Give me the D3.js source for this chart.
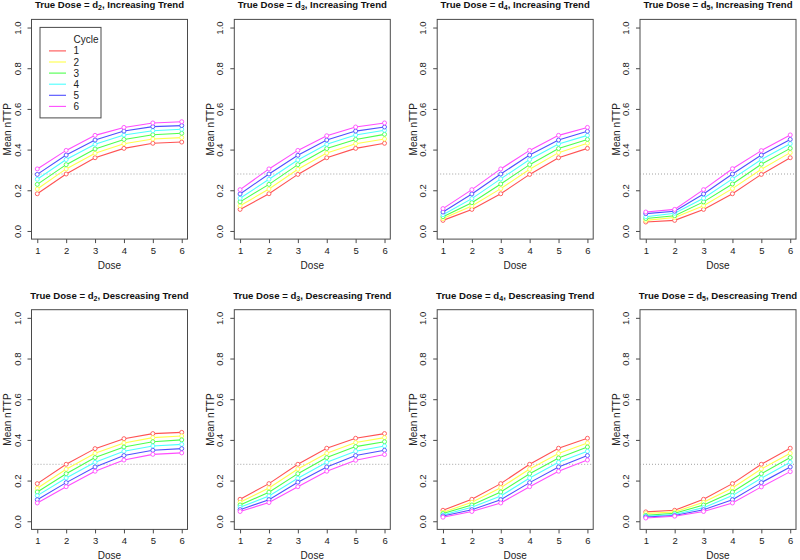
<!DOCTYPE html>
<html><head><meta charset="utf-8">
<script src="https://cdn.jsdelivr.net/npm/d3@7"></script>
<style>
body{margin:0;background:#fff;}
svg{display:block;font-family:"Liberation Sans",Arial,Helvetica,sans-serif;}
</style></head>
<body><svg id="chart" width="800" height="560"></svg>
<script>
// ---- data ----
const doses = [1, 2, 3, 4, 5, 6];
const cycles = ["1", "2", "3", "4", "5", "6"];
const yTicks = [0, 0.2, 0.4, 0.6, 0.8, 1.0];
const target = 0.28;
const trueDoses = ["2", "3", "4", "5", "2", "3", "4", "5"];
const trends = ["Increasing", "Increasing", "Increasing", "Increasing",
                "Descreasing", "Descreasing", "Descreasing", "Descreasing"];
const colors = ["#ff5252", "#ffff4a", "#4cff4c", "#4cffff", "#4f4fff", "#ff4cff"];

// each array: rows = cycles 1..6, columns = doses 1..6
const incD2 = [
  [0.183, 0.280, 0.360, 0.406, 0.431, 0.437],
  [0.206, 0.305, 0.382, 0.429, 0.452, 0.459],
  [0.229, 0.326, 0.403, 0.450, 0.473, 0.480],
  [0.254, 0.351, 0.426, 0.472, 0.493, 0.500],
  [0.278, 0.373, 0.447, 0.491, 0.513, 0.518],
  [0.305, 0.396, 0.470, 0.509, 0.531, 0.537]];
const incD3 = [
  [0.106, 0.183, 0.278, 0.360, 0.406, 0.431],
  [0.124, 0.206, 0.303, 0.383, 0.429, 0.452],
  [0.143, 0.229, 0.326, 0.405, 0.450, 0.475],
  [0.161, 0.254, 0.349, 0.426, 0.472, 0.495],
  [0.182, 0.280, 0.372, 0.447, 0.491, 0.511],
  [0.203, 0.305, 0.396, 0.468, 0.511, 0.531]];
const incD4 = [
  [0.052, 0.106, 0.183, 0.278, 0.360, 0.406],
  [0.061, 0.123, 0.208, 0.303, 0.385, 0.431],
  [0.070, 0.139, 0.231, 0.326, 0.405, 0.450],
  [0.080, 0.159, 0.256, 0.351, 0.428, 0.470],
  [0.093, 0.182, 0.280, 0.373, 0.447, 0.490],
  [0.110, 0.203, 0.305, 0.396, 0.470, 0.509]];
const incD5 = [
  [0.044, 0.052, 0.106, 0.183, 0.278, 0.360],
  [0.052, 0.066, 0.124, 0.208, 0.303, 0.385],
  [0.061, 0.075, 0.143, 0.231, 0.328, 0.406],
  [0.070, 0.087, 0.161, 0.256, 0.351, 0.429],
  [0.085, 0.097, 0.182, 0.280, 0.373, 0.450],
  [0.093, 0.106, 0.203, 0.306, 0.395, 0.472]];
const decD2 = [
  [0.185, 0.280, 0.357, 0.406, 0.431, 0.437],
  [0.162, 0.256, 0.334, 0.385, 0.411, 0.419],
  [0.144, 0.234, 0.313, 0.365, 0.391, 0.400],
  [0.126, 0.213, 0.290, 0.344, 0.370, 0.378],
  [0.106, 0.190, 0.267, 0.323, 0.349, 0.357],
  [0.090, 0.170, 0.246, 0.301, 0.329, 0.336]];
const decD3 = [
  [0.108, 0.185, 0.280, 0.359, 0.408, 0.431],
  [0.093, 0.164, 0.257, 0.334, 0.387, 0.411],
  [0.080, 0.143, 0.234, 0.313, 0.367, 0.391],
  [0.069, 0.124, 0.211, 0.290, 0.344, 0.370],
  [0.057, 0.106, 0.192, 0.267, 0.323, 0.349],
  [0.048, 0.092, 0.170, 0.246, 0.300, 0.328]];
const decD4 = [
  [0.054, 0.108, 0.185, 0.280, 0.359, 0.408],
  [0.044, 0.093, 0.165, 0.257, 0.333, 0.385],
  [0.038, 0.080, 0.144, 0.234, 0.311, 0.365],
  [0.031, 0.069, 0.124, 0.213, 0.290, 0.344],
  [0.026, 0.057, 0.106, 0.190, 0.267, 0.323],
  [0.020, 0.048, 0.090, 0.170, 0.246, 0.301]];
const decD5 = [
  [0.046, 0.054, 0.108, 0.185, 0.280, 0.359],
  [0.038, 0.046, 0.093, 0.164, 0.257, 0.334],
  [0.029, 0.039, 0.080, 0.144, 0.234, 0.313],
  [0.025, 0.033, 0.067, 0.126, 0.211, 0.290],
  [0.021, 0.028, 0.057, 0.106, 0.190, 0.267],
  [0.016, 0.025, 0.048, 0.090, 0.169, 0.244]];
const panelData = [incD2, incD3, incD4, incD5, decD2, decD3, decD4, decD5];

// ---- layout ----
const svg = d3.select("#chart");
const plotW = 156, plotH = 219.7;
const lefts = [31.5, 234.3, 437.2, 640];
const tops = [19.4, 309.7];
const fs = 9.5;

panelData.forEach((series, p) => {
  const col = p % 4, row = Math.floor(p / 4);
  const L = lefts[col], T = tops[row], B = T + plotH, R = L + plotW;
  const x = d3.scaleLinear().domain([0.8, 6.2]).range([L, R]);
  const y = d3.scaleLinear().domain([-0.04, 1.04]).range([B, T]);
  const g = svg.append("g");

  // title
  const t = g.append("text").attr("x", (L + R) / 2).attr("y", T - 11.2)
    .attr("text-anchor", "middle").attr("font-weight", "bold")
    .attr("font-size", 9.6).attr("fill", "#111");
  t.append("tspan").text("True Dose = d");
  t.append("tspan").attr("font-size", 7).attr("dy", 2).text(trueDoses[p]);
  t.append("tspan").attr("dy", -2).text(", " + trends[p] + " Trend");

  // box
  g.append("rect").attr("x", L).attr("y", T).attr("width", plotW).attr("height", plotH)
    .attr("fill", "none").attr("stroke", "#4a4a4a").attr("stroke-width", 1);

  // x axis
  const xa = g.append("g").attr("transform", `translate(0,${B})`)
    .call(d3.axisBottom(x).tickValues(doses).tickSize(4).tickPadding(4).tickFormat(d3.format("d")));
  xa.select(".domain").remove();
  xa.selectAll("line").attr("stroke", "#4a4a4a");
  xa.selectAll("text").attr("font-size", fs).attr("fill", "#222")
    .attr("font-family", "Liberation Sans, Arial, sans-serif");

  // y axis
  const ya = g.append("g").attr("transform", `translate(${L},0)`)
    .call(d3.axisLeft(y).tickValues(yTicks).tickSize(4).tickFormat(d3.format(".1f")));
  ya.select(".domain").remove();
  ya.selectAll("line").attr("stroke", "#4a4a4a");
  ya.selectAll("text").attr("font-size", fs).attr("fill", "#222")
    .attr("font-family", "Liberation Sans, Arial, sans-serif")
    .attr("x", null).attr("dy", null)
    .attr("text-anchor", "middle")
    .attr("transform", "translate(-11,0) rotate(-90)");

  // axis labels
  g.append("text").attr("x", (L + R) / 2).attr("y", B + 29.8)
    .attr("text-anchor", "middle").attr("font-size", fs + 0.5).attr("fill", "#222").text("Dose");
  g.append("text").attr("transform", `translate(${L - 20.5},${(T + B) / 2}) rotate(-90)`)
    .attr("text-anchor", "middle").attr("font-size", fs + 0.5).attr("fill", "#222").text("Mean nTTP");

  // target reference line
  g.append("line").attr("x1", L).attr("x2", R).attr("y1", y(target)).attr("y2", y(target))
    .attr("stroke", "#8a8a8a").attr("stroke-width", 0.8).attr("stroke-dasharray", "1,2");

  // series
  const line = d3.line().x((d, i) => x(doses[i])).y(d => y(d));
  series.forEach((vals, c) => {
    g.append("path").datum(vals).attr("d", line).attr("fill", "none")
      .attr("stroke", colors[c]).attr("stroke-width", 1.1);
    g.selectAll(null).data(vals).enter().append("circle")
      .attr("cx", (d, i) => x(doses[i])).attr("cy", d => y(d)).attr("r", 2)
      .attr("fill", "#fff").attr("stroke", colors[c]).attr("stroke-width", 0.9);
  });

  // legend in first panel
  if (p === 0) {
    const lx = L + 8.5, ly = T + 8;
    const lg = g.append("g");
    lg.append("rect").attr("x", lx).attr("y", ly).attr("width", 61).attr("height", 90.5)
      .attr("fill", "#fff").attr("stroke", "#4a4a4a").attr("stroke-width", 1);
    lg.append("text").attr("x", lx + 33.5).attr("y", ly + 15.5).attr("font-size", fs + 0.5)
      .attr("fill", "#222").text("Cycle");
    cycles.forEach((cy, i) => {
      const yy = ly + 23.5 + i * 11.1;
      lg.append("line").attr("x1", lx + 9).attr("x2", lx + 26).attr("y1", yy).attr("y2", yy)
        .attr("stroke", colors[i]).attr("stroke-width", 1.1);
      lg.append("text").attr("x", lx + 33.5).attr("y", yy + 3.5).attr("font-size", fs + 0.5)
        .attr("fill", "#222").text(cy);
    });
  }
});
</script>
</body></html>
